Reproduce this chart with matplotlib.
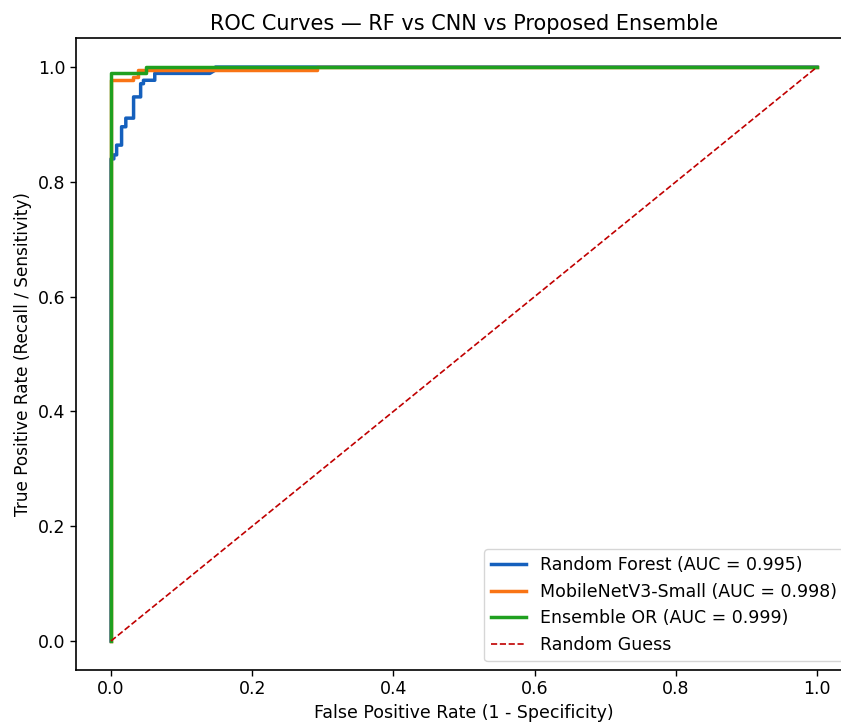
import matplotlib
matplotlib.use("Agg")
import matplotlib.pyplot as plt

# ROC step curves (FPR, TPR)
rf_fpr = [0.0, 0.0, 0.004, 0.004, 0.008, 0.008, 0.015, 0.015, 0.021, 0.021, 0.032, 0.032, 0.042, 0.042, 0.046, 0.046, 0.062, 0.062, 0.140, 0.148, 0.148, 1.0]
rf_tpr = [0.0, 0.840, 0.840, 0.847, 0.847, 0.864, 0.864, 0.896, 0.896, 0.911, 0.911, 0.948, 0.948, 0.971, 0.971, 0.977, 0.977, 0.989, 0.989, 0.995, 1.0, 1.0]

cnn_fpr = [0.0, 0.0, 0.031, 0.031, 0.038, 0.038, 0.292, 0.292, 1.0]
cnn_tpr = [0.0, 0.977, 0.977, 0.983, 0.983, 0.995, 0.995, 1.0, 1.0]

ens_fpr = [0.0, 0.0, 0.05, 0.05, 1.0]
ens_tpr = [0.0, 0.990, 0.990, 1.0, 1.0]

labels = ["Random Forest (AUC = 0.995)", "MobileNetV3-Small (AUC = 0.998)", "Ensemble OR (AUC = 0.999)"]
colors = ["#1560bd", "#f97415", "#1fa01f"]

fig = plt.figure(figsize=(8.41, 7.24), dpi=100)
ax = fig.add_axes([0.090, 0.075, 0.9234, 0.872])

ax.plot(rf_fpr, rf_tpr, color=colors[0], lw=2.5, label=labels[0])
ax.plot(cnn_fpr, cnn_tpr, color=colors[1], lw=2.5, label=labels[1])
ax.plot(ens_fpr, ens_tpr, color=colors[2], lw=2.5, label=labels[2])
ax.plot([0, 1], [0, 1], color="#c00000", lw=1.2, ls="--", label="Random Guess")

ax.set_xlim(-0.05, 1.05)
ax.set_ylim(-0.05, 1.05)
ax.set_xticks([0.0, 0.2, 0.4, 0.6, 0.8, 1.0])
ax.set_yticks([0.0, 0.2, 0.4, 0.6, 0.8, 1.0])
ax.tick_params(labelsize=12.5, width=1.0, length=4)
for s in ax.spines.values():
    s.set_linewidth(1.2)

ax.set_title("ROC Curves \u2014 RF vs CNN vs Proposed Ensemble", fontsize=15)
ax.set_xlabel("False Positive Rate (1 - Specificity)", fontsize=12.5)
ax.set_ylabel("True Positive Rate (Recall / Sensitivity)", fontsize=12.2)
ax.legend(loc="lower right", fontsize=12.5)

fig.savefig("out.png", dpi=100)
